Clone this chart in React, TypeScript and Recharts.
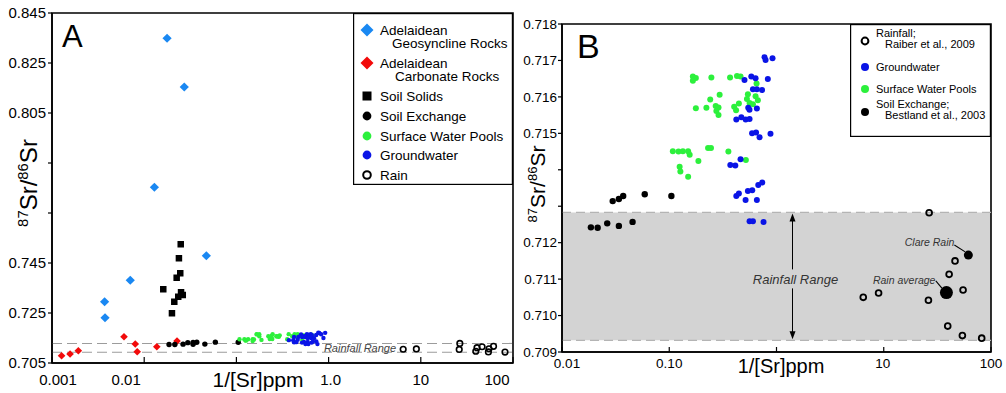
import React from "react";
import {
  ScatterChart,
  Scatter,
  XAxis,
  YAxis,
  ReferenceArea,
  ReferenceLine,
  ReferenceDot,
  Label,
  Legend,
} from "recharts";

const FONT = "'Liberation Sans', Arial, Helvetica, sans-serif";

const GEO_BLUE = "#1a88f2";
const CARB_RED = "#f20a0a";
const POOL_GREEN = "#2cf03c";
const GW_BLUE = "#0a14e6";
const BAND_GREY = "#d3d3d3";

// --- panel A only: rock and soil solids ---
const geosynclineRocks = [
  { x: 0.0177, y: 0.8349 },
  { x: 0.0272, y: 0.8154 },
  { x: 0.0129, y: 0.7753 },
  { x: 0.0472, y: 0.7479 },
  { x: 0.00706, y: 0.7381 },
  { x: 0.00372, y: 0.7295 },
  { x: 0.00376, y: 0.7231 },
];

const carbonateRocks = [
  { x: 0.00127, y: 0.7079 },
  { x: 0.00157, y: 0.7086 },
  { x: 0.00193, y: 0.7099 },
  { x: 0.00604, y: 0.7155 },
  { x: 0.008, y: 0.7126 },
  { x: 0.0084, y: 0.7095 },
  { x: 0.0137, y: 0.7115 },
  { x: 0.0227, y: 0.7138 },
];

const soilSolids = [
  { x: 0.0249, y: 0.7525 },
  { x: 0.0238, y: 0.7469 },
  { x: 0.0246, y: 0.7409 },
  { x: 0.0225, y: 0.7391 },
  { x: 0.0161, y: 0.7345 },
  { x: 0.0251, y: 0.7333 },
  { x: 0.0262, y: 0.7322 },
  { x: 0.0234, y: 0.7315 },
  { x: 0.0212, y: 0.7295 },
  { x: 0.02, y: 0.7249 },
];

// --- shared by both panels ---
const soilExchange = [
  { x: 0.0186, y: 0.71242 },
  { x: 0.0215, y: 0.71241 },
  { x: 0.0264, y: 0.71253 },
  { x: 0.0339, y: 0.71246 },
  { x: 0.0455, y: 0.71257 },
  { x: 0.0297, y: 0.71314 },
  { x: 0.0339, y: 0.7132 },
  { x: 0.0372, y: 0.71328 },
  { x: 0.0591, y: 0.71333 },
  { x: 0.1047, y: 0.71328 },
];

const surfacePools = [
  { x: 0.166, y: 0.71656 }, { x: 0.177, y: 0.71652 }, { x: 0.166, y: 0.71644 },
  { x: 0.247, y: 0.71653 }, { x: 0.369, y: 0.71653 }, { x: 0.428, y: 0.71657 },
  { x: 0.462, y: 0.71656 }, { x: 0.652, y: 0.71637 }, { x: 0.295, y: 0.71606 },
  { x: 0.241, y: 0.71593 }, { x: 0.177, y: 0.71569 }, { x: 0.222, y: 0.7157 },
  { x: 0.271, y: 0.71575 }, { x: 0.288, y: 0.71571 }, { x: 0.275, y: 0.71561 },
  { x: 0.288, y: 0.7155 }, { x: 0.403, y: 0.71573 }, { x: 0.446, y: 0.71582 },
  { x: 0.42, y: 0.71563 }, { x: 0.541, y: 0.71607 }, { x: 0.53, y: 0.71594 },
  { x: 0.638, y: 0.71602 }, { x: 0.67, y: 0.71591 }, { x: 0.561, y: 0.71583 },
  { x: 0.603, y: 0.7158 }, { x: 0.108, y: 0.71451 }, { x: 0.122, y: 0.7145 },
  { x: 0.134, y: 0.71451 }, { x: 0.15, y: 0.71451 }, { x: 0.155, y: 0.71441 },
  { x: 0.23, y: 0.7146 }, { x: 0.245, y: 0.7146 }, { x: 0.187, y: 0.71424 },
  { x: 0.356, y: 0.7145 }, { x: 0.518, y: 0.71427 }, { x: 0.125, y: 0.71408 },
  { x: 0.127, y: 0.71395 }, { x: 0.15, y: 0.71381 },
];

const groundwater = [
  { x: 0.773, y: 0.71709 }, { x: 0.791, y: 0.71701 }, { x: 0.918, y: 0.71706 },
  { x: 0.503, y: 0.71646 }, { x: 0.582, y: 0.71656 }, { x: 0.638, y: 0.71651 },
  { x: 0.83, y: 0.71649 }, { x: 0.603, y: 0.71621 }, { x: 0.656, y: 0.71621 },
  { x: 0.733, y: 0.71619 }, { x: 0.545, y: 0.7157 }, { x: 0.56, y: 0.71565 },
  { x: 0.656, y: 0.71568 }, { x: 0.422, y: 0.71538 }, { x: 0.47, y: 0.71544 },
  { x: 0.516, y: 0.71538 }, { x: 0.561, y: 0.71539 }, { x: 0.592, y: 0.715 },
  { x: 0.645, y: 0.71502 }, { x: 0.695, y: 0.71489 }, { x: 0.879, y: 0.71499 },
  { x: 0.371, y: 0.71413 }, { x: 0.413, y: 0.71412 }, { x: 0.462, y: 0.71429 },
  { x: 0.422, y: 0.71328 }, { x: 0.446, y: 0.71335 }, { x: 0.515, y: 0.71317 },
  { x: 0.541, y: 0.71342 }, { x: 0.594, y: 0.71344 }, { x: 0.656, y: 0.71317 },
  { x: 0.676, y: 0.71358 }, { x: 0.736, y: 0.71365 }, { x: 0.561, y: 0.71259 },
  { x: 0.603, y: 0.71259 }, { x: 0.757, y: 0.71257 },
];

const rain = [
  { x: 26.5, y: 0.71282 },
  { x: 46.2, y: 0.7115 },
  { x: 40.7, y: 0.71113 },
  { x: 54.9, y: 0.7107 },
  { x: 26.1, y: 0.71042 },
  { x: 6.44, y: 0.7105 },
  { x: 8.95, y: 0.71062 },
  { x: 39.5, y: 0.70971 },
  { x: 54.1, y: 0.70945 },
  { x: 81.9, y: 0.70938 },
];
const clareRain = [{ x: 61.5, y: 0.71166, label: "Clare Rain" }];
const rainAverage = [{ x: 38.4, y: 0.71063, label: "Rain average" }];

const rainfallRange = [0.70932, 0.71283];

// axes
const ticksAX = [0.001, 0.01, 0.1, 1, 10, 100];
const labelsAX = ["0.001", "0.01", "", "1.0", "10", "100"];
const shiftsAX = [6, -18, 0, 2, 0, -16];
const ticksAY = [0.705, 0.725, 0.745, 0.765, 0.785, 0.805, 0.825, 0.845];
const labelsAY = ["0.705", "0.725", "0.745", "", "", "0.805", "0.825", "0.845"];

const ticksBX = [0.01, 0.1, 1, 10, 100];
const labelsBX = ["0.01", "0.10", "", "10", "100"];
const shiftsBX = [5, 0, 0, -1, 0];
const ticksBY = [0.709, 0.71, 0.711, 0.712, 0.713, 0.714, 0.715, 0.716, 0.717, 0.718];
const labelsBY = ["0.709", "0.710", "0.711", "0.712", "", "", "0.715", "0.716", "0.717", "0.718"];

const legendA = [
  { kind: "diamond", color: GEO_BLUE, lines: ["Adelaidean", "Geosyncline Rocks"] },
  { kind: "diamond", color: CARB_RED, lines: ["Adelaidean", "Carbonate Rocks"] },
  { kind: "square", color: "#000", lines: ["Soil Solids"] },
  { kind: "dot", color: "#000", lines: ["Soil Exchange"] },
  { kind: "dot", color: POOL_GREEN, lines: ["Surface Water Pools"] },
  { kind: "dot", color: GW_BLUE, lines: ["Groundwater"] },
  { kind: "ring", color: "#000", lines: ["Rain"] },
];
const legendAY = [17, 50, 83, 103, 123, 142, 162];
const legendAIndent = [12, 15, 0, 0, 0, 0, 0];

const legendB = [
  { kind: "ring", color: "#000", lines: ["Rainfall;", "Raiber et al., 2009"] },
  { kind: "dot", color: GW_BLUE, lines: ["Groundwater"] },
  { kind: "dot", color: POOL_GREEN, lines: ["Surface Water Pools"] },
  { kind: "dot", color: "#000", lines: ["Soil Exchange;", "Bestland et al., 2003"] },
];
const legendBY = [17, 43, 65, 88];

// marker shapes
const diamond = (fill: string, h: number) => (p: any) => (
  <polygon
    points={`${p.cx},${p.cy - h} ${p.cx + h},${p.cy} ${p.cx},${p.cy + h} ${p.cx - h},${p.cy}`}
    fill={fill}
  />
);
const square = (fill: string, s: number) => (p: any) => (
  <rect x={p.cx - s / 2} y={p.cy - s / 2} width={s} height={s} fill={fill} />
);
const dot = (fill: string, r: number) => (p: any) => <circle cx={p.cx} cy={p.cy} r={r} fill={fill} />;
const ring = (r: number, w: number) => (p: any) => (
  <circle cx={p.cx} cy={p.cy} r={r} fill="none" stroke="#000" strokeWidth={w} />
);

// filled rain marker with italic call-out and leader
const calloutDot = (r: number, tx: number, ty: number, lx: number, ly: number) => (p: any) => (
  <g>
    <line x1={p.cx + lx} y1={p.cy + ly} x2={p.cx - r * 0.7} y2={p.cy - r * 0.7} stroke="#000" strokeWidth={1.1} />
    <circle cx={p.cx} cy={p.cy} r={r} fill="#000" />
    <text
      x={p.cx + tx}
      y={p.cy + ty}
      textAnchor="end"
      fontSize={10.5}
      fontStyle="italic"
      fill="#333"
      fontFamily={FONT}
    >
      {p.payload.label}
    </text>
  </g>
);

const findTick = (values: number[], v: number) =>
  values.findIndex((t) => Math.abs(t - v) < t * 1e-6);

function BottomTick(props: any) {
  const { x, y, payload, values, labels, shifts, fontSize, len, gap } = props;
  const i = findTick(values, payload.value);
  return (
    <g>
      <line x1={x} y1={y} x2={x} y2={y - len} stroke="#000" strokeWidth={1.2} />
      <text x={x + (shifts[i] || 0)} y={y + gap} textAnchor="middle" fontSize={fontSize} fill="#000" fontFamily={FONT}>
        {labels[i]}
      </text>
    </g>
  );
}

const xTitle = (dx: number, dy: number, size: number) => (props: any) => {
  const vb = props.viewBox;
  return (
    <text x={vb.x + dx} y={vb.y + dy} textAnchor="middle" fontSize={size} fontFamily={FONT} fill="#000">
      1/[Sr]ppm
    </text>
  );
};

const yTitle = (cx: number, dy: number, size: number) => (props: any) => {
  const vb = props.viewBox;
  const cy = vb.y + vb.height / 2 + dy;
  const sup = size * 0.62;
  const rise = size * 0.38;
  return (
    <text transform={`translate(${vb.x + cx},${cy}) rotate(-90)`} textAnchor="middle" fontSize={size} fontFamily={FONT} fill="#000">
      <tspan fontSize={sup} dy={-rise}>87</tspan>
      <tspan dy={rise}>Sr/</tspan>
      <tspan fontSize={sup} dy={-rise}>86</tspan>
      <tspan dy={rise}>Sr</tspan>
    </text>
  );
};

const panelLetter = (letter: string, dx: number, dy: number, size: number) => (props: any) => {
  const vb = props.viewBox;
  return (
    <text x={vb.x + dx} y={vb.y + dy} fontSize={size} fontFamily={FONT} fill="#000">
      {letter}
    </text>
  );
};

// vertical double-headed arrow across the rainfall band, broken for its caption
const rangeArrow = (p: any) => {
  const x = p.x1;
  const top = Math.min(p.y1, p.y2);
  const bot = Math.max(p.y1, p.y2);
  const mid = (top + bot) / 2 + 3;
  return (
    <g>
      <line x1={x} y1={top + 4} x2={x} y2={mid - 10} stroke="#000" strokeWidth={1} />
      <line x1={x} y1={mid + 9} x2={x} y2={bot - 4} stroke="#000" strokeWidth={1} />
      <polygon points={`${x},${top + 1} ${x - 3},${top + 9} ${x + 3},${top + 9}`} fill="#000" />
      <polygon points={`${x},${bot - 1} ${x - 3},${bot - 9} ${x + 3},${bot - 9}`} fill="#000" />
      <text x={x + 3} y={mid + 4.5} textAnchor="middle" fontSize={13} fontStyle="italic" fill="#333" fontFamily={FONT}>
        Rainfall Range
      </text>
    </g>
  );
};

function LegendMarker({ kind, color, x, y, big }: any) {
  if (kind === "diamond") {
    const h = 6.5;
    return <polygon points={`${x},${y - h} ${x + h},${y} ${x},${y + h} ${x - h},${y}`} fill={color} />;
  }
  if (kind === "square") return <rect x={x - 4.5} y={y - 4.5} width={9} height={9} fill={color} />;
  if (kind === "ring")
    return <circle cx={x} cy={y} r={big ? 3.8 : 3.4} fill="none" stroke="#000" strokeWidth={2} />;
  return <circle cx={x} cy={y} r={big ? 4.4 : 4} fill={color} />;
}

function LegendBoxA() {
  return (
    <svg width={160} height={172} style={{ display: "block" }}>
      <rect x={0.6} y={0.6} width={158.8} height={170.8} fill="#fff" stroke="#000" strokeWidth={1.2} />
      {legendA.map((e, i) => (
        <g key={i}>
          <LegendMarker kind={e.kind} color={e.color} x={14} y={legendAY[i]} big />
          {e.lines.map((t, j) => (
            <text
              key={j}
              x={27 + (j > 0 ? legendAIndent[i] : 0)}
              y={legendAY[i] + 5 + j * 13}
              fontSize={13.5}
              fontFamily={FONT}
              fill="#000"
            >
              {t}
            </text>
          ))}
        </g>
      ))}
    </svg>
  );
}

function LegendBoxB() {
  return (
    <svg width={141} height={113} style={{ display: "block" }}>
      <rect x={0.6} y={0.6} width={139.8} height={111.8} fill="#fff" stroke="#000" strokeWidth={1.2} />
      {legendB.map((e, i) => (
        <g key={i}>
          <LegendMarker kind={e.kind} color={e.color} x={15} y={legendBY[i]} />
          {e.lines.map((t, j) => (
            <text
              key={j}
              x={26 + (j > 0 ? 9 : 0)}
              y={legendBY[i] + 4 + (e.lines.length > 1 ? j * 11 - 8 : 0)}
              fontSize={11}
              fontFamily={FONT}
              fill="#000"
            >
              {t}
            </text>
          ))}
        </g>
      ))}
    </svg>
  );
}

const axisLine = { stroke: "#000", strokeWidth: 1.5 };
const yTickLine = { stroke: "#000", strokeWidth: 1.2 };

function PanelA() {
  return (
    <ScatterChart width={520} height={393} margin={{ top: 13, right: 7, bottom: 0, left: 0 }}>
      <XAxis
        type="number"
        dataKey="x"
        scale="log"
        domain={[0.001, 100]}
        ticks={ticksAX}
        interval={0}
        allowDataOverflow
        height={30}
        tickSize={0}
        tickMargin={0}
        tickLine={false}
        axisLine={axisLine}
        tick={(p: any) => (
          <BottomTick {...p} values={ticksAX} labels={labelsAX} shifts={shiftsAX} fontSize={15} len={6} gap={22} />
        )}
      >
        <Label content={xTitle(206, 24, 21)} />
      </XAxis>
      <YAxis
        type="number"
        dataKey="y"
        domain={[0.705, 0.845]}
        ticks={ticksAY}
        interval={0}
        allowDataOverflow
        width={52}
        tickSize={4}
        tickMargin={2}
        axisLine={axisLine}
        tickLine={yTickLine}
        tick={{ fontSize: 15, fill: "#000", fontFamily: FONT }}
        tickFormatter={(v: number) => labelsAY[findTick(ticksAY, v)]}
      >
        <Label content={yTitle(37, -5, 24)} />
      </YAxis>

      {rainfallRange.map((v) => (
        <ReferenceLine key={v} y={v} stroke="#9c9c9c" strokeWidth={1.1} strokeDasharray="10 5" />
      ))}
      <ReferenceDot
        x={2.19}
        y={(rainfallRange[0] + rainfallRange[1]) / 2}
        r={1}
        shape={(p: any) => (
          <text x={p.cx} y={p.cy + 4} textAnchor="middle" fontSize={11} fontStyle="italic" fill="#444" fontFamily={FONT}>
            Rainfall Range
          </text>
        )}
      />

      <Scatter data={geosynclineRocks} shape={diamond(GEO_BLUE, 4.6)} isAnimationActive={false} />
      <Scatter data={carbonateRocks} shape={diamond(CARB_RED, 3.8)} isAnimationActive={false} />
      <Scatter data={soilSolids} shape={square("#000", 6.5)} isAnimationActive={false} />
      <Scatter data={soilExchange} shape={dot("#000", 2.7)} isAnimationActive={false} />
      <Scatter data={surfacePools} shape={dot(POOL_GREEN, 2.2)} isAnimationActive={false} />
      <Scatter data={groundwater} shape={dot(GW_BLUE, 2.2)} isAnimationActive={false} />
      <Scatter data={[...rain, ...clareRain]} shape={ring(2.8, 1.6)} isAnimationActive={false} />

      <ReferenceArea
        x1={0.001}
        x2={100}
        y1={0.705}
        y2={0.845}
        fill="none"
        stroke="#000"
        strokeWidth={1.6}
        ifOverflow="visible"
      >
        <Label content={panelLetter("A", 10, 34, 31)} />
      </ReferenceArea>

      <Legend
        layout="vertical"
        align="center"
        verticalAlign="middle"
        content={() => <LegendBoxA />}
        wrapperStyle={{ left: 353, top: 13, width: 160, height: 172 }}
      />
    </ScatterChart>
  );
}

function PanelB() {
  return (
    <ScatterChart width={506} height={393} margin={{ top: 24, right: 15, bottom: 0, left: 0 }}>
      <XAxis
        type="number"
        dataKey="x"
        scale="log"
        domain={[0.01, 100]}
        ticks={ticksBX}
        interval={0}
        allowDataOverflow
        height={41}
        tickSize={0}
        tickMargin={0}
        tickLine={false}
        axisLine={axisLine}
        tick={(p: any) => (
          <BottomTick {...p} values={ticksBX} labels={labelsBX} shifts={shiftsBX} fontSize={13.5} len={5} gap={16} />
        )}
      >
        <Label content={xTitle(219, 20.5, 20)} />
      </XAxis>
      <YAxis
        type="number"
        dataKey="y"
        domain={[0.709, 0.718]}
        ticks={ticksBY}
        interval={0}
        allowDataOverflow
        width={62}
        tickSize={4}
        tickMargin={1}
        axisLine={axisLine}
        tickLine={yTickLine}
        tick={{ fontSize: 13.5, fill: "#000", fontFamily: FONT }}
        tickFormatter={(v: number) => labelsBY[findTick(ticksBY, v)]}
      >
        <Label content={yTitle(45, -4, 21)} />
      </YAxis>

      <ReferenceArea
        x1={0.01}
        x2={100}
        y1={rainfallRange[0]}
        y2={rainfallRange[1]}
        fill={BAND_GREY}
        fillOpacity={1}
        stroke="none"
      />
      {rainfallRange.map((v) => (
        <ReferenceLine key={v} y={v} stroke="#b4b4b4" strokeWidth={1.3} strokeDasharray="9 5" />
      ))}
      <ReferenceLine
        segment={[
          { x: 1.41, y: rainfallRange[0] },
          { x: 1.41, y: rainfallRange[1] },
        ]}
        shape={rangeArrow}
      />

      <Scatter data={soilExchange} shape={dot("#000", 3.2)} isAnimationActive={false} />
      <Scatter data={surfacePools} shape={dot(POOL_GREEN, 3)} isAnimationActive={false} />
      <Scatter data={groundwater} shape={dot(GW_BLUE, 3)} isAnimationActive={false} />
      <Scatter data={rain} shape={ring(2.9, 1.8)} isAnimationActive={false} />
      <Scatter data={clareRain} shape={calloutDot(4.5, -14, -9.5, -14, -10)} isAnimationActive={false} />
      <Scatter data={rainAverage} shape={calloutDot(6.5, -11, -8.7, -10.6, -11.7)} isAnimationActive={false} />

      <ReferenceArea
        x1={0.01}
        x2={100}
        y1={0.709}
        y2={0.718}
        fill="none"
        stroke="#000"
        strokeWidth={1.6}
        ifOverflow="visible"
      >
        <Label content={panelLetter("B", 15, 34, 34)} />
      </ReferenceArea>

      <Legend
        layout="vertical"
        align="center"
        verticalAlign="middle"
        content={() => <LegendBoxB />}
        wrapperStyle={{ left: 350, top: 24, width: 141, height: 113 }}
      />
    </ScatterChart>
  );
}

export default function App() {
  return (
    <div style={{ position: "absolute", left: 0, top: 0, width: 1006, height: 393, background: "#fff", fontFamily: FONT }}>
      <div style={{ position: "absolute", left: 0, top: 0 }}>
        <PanelA />
      </div>
      <div style={{ position: "absolute", left: 500, top: 0 }}>
        <PanelB />
      </div>
    </div>
  );
}
